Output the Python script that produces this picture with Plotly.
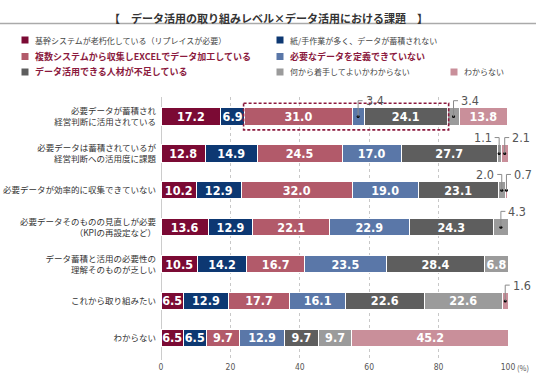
import plotly.graph_objects as go

# ---------------- data ----------------
rows = [
    "必要データが蓄積され<br>経営判断に活用されている",
    "必要データは蓄積されているが<br>経営判断への活用度に課題",
    "必要データが効率的に収集できていない",
    "必要データそのものの見直しが必要<br>（KPIの再設定など）",
    "データ蓄積と活用の必要性の<br>理解そのものが乏しい",
    "これから取り組みたい",
    "わからない",
]
series_names = [
    "基幹システムが老朽化している（リプレイスが必要）",
    "紙/手作業が多く、データが蓄積されない",
    "複数システムから収集しEXCELでデータ加工している",
    "必要なデータを定義できていない",
    "データ活用できる人材が不足している",
    "何から着手してよいかわからない",
    "わからない",
]
s1 = [17.2, 12.8, 10.2, 13.6, 10.5, 6.5, 6.5]
s2 = [6.9, 14.9, 12.9, 12.9, 14.2, 12.9, 6.5]
s3 = [31.0, 24.5, 32.0, 22.1, 16.7, 17.7, 9.7]
s4 = [3.4, 17.0, 19.0, 22.9, 23.5, 16.1, 12.9]
s5 = [24.1, 27.7, 23.1, 24.3, 28.4, 22.6, 9.7]
s6 = [3.4, 1.1, 2.0, 4.3, 6.8, 22.6, 9.7]
s7 = [13.8, 2.1, 0.7, 0.0, 0.0, 1.6, 45.2]
series_values = [s1, s2, s3, s4, s5, s6, s7]
x_tick_vals = [0, 20, 40, 60, 80, 100]
x_tick_text = ["0", "20", "40", "60", "80", "100"]
title_text = "【　データ活用の取り組みレベル×データ活用における課題　】"

# ---------------- styles ----------------
colors = ["#7b0a34", "#0d3872", "#b25a6a", "#5a77a8", "#5e5e5e", "#9b9b9b", "#c98f9a"]
highlight = [False, False, True, True, True, False, False]
# legend placement in pixels (x of marker, y centre)
legend_px = [(25, 40), (280, 40), (25, 56.5), (280, 56.5), (25, 72), (280, 72), (454, 72)]
leader_left = {(1, 5), (2, 5)}
small_threshold = 5
box_row, box_series = 0, (2, 4)

JP = "Noto Sans CJK JP, Noto Sans, sans-serif"
NUM = "Liberation Sans Narrow, DejaVu Sans Condensed, Roboto, sans-serif"

W, H = 536, 375
ML, MR, MT, MB = 161, 28, 97, 15
PW, PH = W - ML - MR, H - MT - MB
X_RANGE = [0, 100]
Y_RANGE = [6.6, -0.53]


def px2paper(px, py):
    return (px - ML) / PW, 1 - (py - MT) / PH


def xd2paper(x):
    return (x - X_RANGE[0]) / (X_RANGE[1] - X_RANGE[0])


def yd2paper(y):
    return (Y_RANGE[0] - y) / (Y_RANGE[0] - Y_RANGE[1])


fig = go.Figure()
ypos = list(range(len(rows)))

for name, vals, col in zip(series_names, series_values, colors):
    texts = [f"{v:.1f}" if v >= small_threshold else "" for v in vals]
    fig.add_trace(go.Bar(
        y=ypos, x=vals, orientation="h", name=name,
        marker=dict(color=col, line=dict(color="white", width=1)),
        width=0.47,
        text=texts, textposition="inside", insidetextanchor="middle",
        textangle=0, constraintext="none",
        textfont=dict(color="white", size=12.5, family=NUM, weight="bold"),
        showlegend=False, hoverinfo="skip",
    ))

shapes = []
annotations = []
dot_x, dot_y = [], []

# leader lines for small values (paper coords so they are not clipped)
for r in range(len(rows)):
    start = 0.0
    for si, vals in enumerate(series_values):
        v = vals[r]
        if 0 < v < small_threshold:
            xc = start + v / 2
            ytop = r - 0.43
            left = (r, si) in leader_left
            dxp = (-4.5 if left else 4.5) / PW
            xp = xd2paper(xc)
            yp0 = yd2paper(r)
            yp1 = yd2paper(ytop)
            shapes.append(dict(type="path", xref="paper", yref="paper",
                               path=f"M {xp},{yp0} L {xp},{yp1} L {xp + dxp},{yp1}",
                               line=dict(color="#8a8a8a", width=1)))
            dot_x.append(xc)
            dot_y.append(r)
            annotations.append(dict(
                x=xp + dxp, y=yp1, xref="paper", yref="paper", text=f"{v:.1f}",
                showarrow=False, xanchor="right" if left else "left", yanchor="middle",
                xshift=-1 if left else 1,
                font=dict(family=NUM, size=12.5, color="#555555")))
        start += v

fig.add_trace(go.Scatter(x=dot_x, y=dot_y, mode="markers",
                         marker=dict(color="black", size=3),
                         showlegend=False, hoverinfo="skip"))

# dashed highlight box
b0 = sum(series_values[i][box_row] for i in range(box_series[0]))
b1 = sum(series_values[i][box_row] for i in range(box_series[1] + 1))
shapes.append(dict(type="rect", xref="x", yref="y",
                   x0=b0 - 0.3, x1=b1 + 0.3, y0=box_row - 0.36, y1=box_row + 0.36,
                   line=dict(color="#8b1a3e", width=1.6, dash="3px,2px"),
                   layer="above"))

# title and rule
tx, ty = px2paper(W / 2, 18)
annotations.append(dict(x=tx, y=ty, xref="paper", yref="paper", text=title_text,
                        showarrow=False, xanchor="center", yanchor="middle",
                        font=dict(family=JP, size=11, color="#333333", weight="bold")))
lx0, ly = px2paper(0, 23.5)
lx1, _ = px2paper(W, 23.5)
shapes.append(dict(type="line", xref="paper", yref="paper", x0=lx0, x1=lx1, y0=ly, y1=ly,
                   line=dict(color="#aaaaaa", width=1.5)))

# legend
for name, col, hl, (mx, my) in zip(series_names, colors, highlight, legend_px):
    x0, y0 = px2paper(mx - 3.5, my - 3.5)
    x1, y1 = px2paper(mx + 3.5, my + 3.5)
    shapes.append(dict(type="rect", xref="paper", yref="paper", x0=x0, x1=x1, y0=y0, y1=y1,
                       fillcolor=col, line=dict(width=0)))
    ax, ay = px2paper(mx + 8, my)
    annotations.append(dict(
        x=ax, y=ay, xref="paper", yref="paper", text=name, showarrow=False,
        xanchor="left", yanchor="middle",
        font=dict(family=JP, size=9 if hl else 8,
                  color="#8b1a3e" if hl else "#444444",
                  weight="bold" if hl else "normal")))

# (%) after 100
px_, py_ = px2paper(ML + PW + 7, 367)
annotations.append(dict(x=px_, y=py_, xref="paper", yref="paper", text="(%)",
                        showarrow=False, xanchor="left", yanchor="middle",
                        font=dict(family=JP, size=7.5, color="#555555")))

fig.update_layout(
    width=W, height=H,
    margin=dict(l=ML, r=MR, t=MT, b=MB, autoexpand=False),
    barmode="stack", bargap=0.5,
    plot_bgcolor="white", paper_bgcolor="white",
    shapes=shapes, annotations=annotations,
    xaxis=dict(range=X_RANGE, tickvals=x_tick_vals, ticktext=x_tick_text,
               showgrid=True, gridcolor="#c8c8c8", griddash="dot", gridwidth=1,
               zeroline=False, showline=False, ticks="",
               tickfont=dict(family=NUM, size=8.5, color="#555555"),
               fixedrange=True),
    yaxis=dict(range=Y_RANGE, tickvals=ypos, ticktext=rows, showgrid=False,
               zeroline=False, showline=False, ticks="", ticklabelstandoff=4,
               tickfont=dict(family=JP, size=8.5, color="#333333"),
               fixedrange=True),
)
# solid axis line at x = 0
fig.add_shape(type="line", xref="x", yref="paper", x0=0, x1=0, y0=0, y1=1,
              line=dict(color="#999999", width=1), layer="below")

fig.write_html(
    "out.html",
    config={"displayModeBar": False},
    post_script="document.body.style.margin='0';document.body.style.overflow='hidden';",
)
